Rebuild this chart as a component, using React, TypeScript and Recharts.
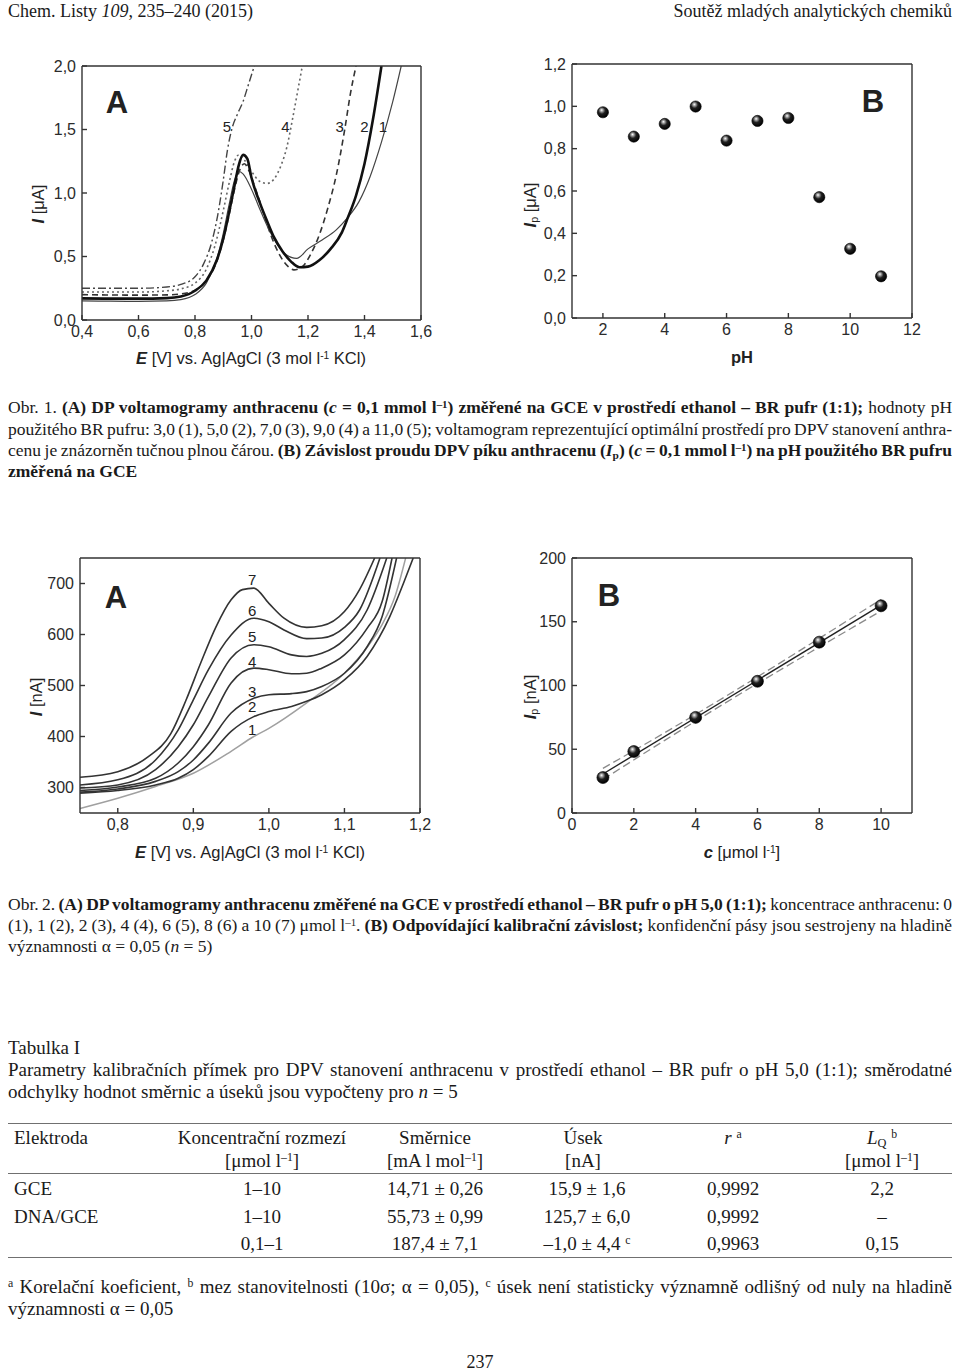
import React, { useLayoutEffect, useRef } from 'react';
import { ComposedChart, Line, Scatter, XAxis, YAxis, ReferenceDot } from 'recharts';

// ---------- DATA ----------
// Obr. 1A: DP voltammograms at various pH  [E (V), I (µA)]
const fig1A_pH3: [number, number][] = [[0.40,0.15],[0.50,0.148],[0.60,0.147],[0.70,0.15],[0.75,0.16],[0.80,0.20],[0.84,0.29],[0.877,0.48],[0.90,0.68],[0.92,0.90],[0.94,1.10],[0.955,1.17],[0.97,1.15],[1.00,1.03],[1.03,0.87],[1.06,0.72],[1.09,0.60],[1.12,0.52],[1.16,0.485],[1.20,0.56],[1.25,0.63],[1.30,0.71],[1.338,0.80],[1.38,0.93],[1.42,1.13],[1.46,1.40],[1.50,1.72],[1.53,2.0]];
const fig1A_pH5: [number, number][] = [[0.40,0.17],[0.50,0.168],[0.60,0.168],[0.70,0.172],[0.75,0.185],[0.80,0.23],[0.84,0.31],[0.877,0.47],[0.90,0.64],[0.92,0.84],[0.94,1.06],[0.955,1.22],[0.97,1.30],[0.985,1.27],[1.00,1.12],[1.03,0.92],[1.055,0.78],[1.08,0.65],[1.11,0.54],[1.14,0.46],[1.17,0.415],[1.20,0.42],[1.24,0.47],[1.28,0.56],[1.32,0.69],[1.34,0.80],[1.37,0.98],[1.40,1.23],[1.43,1.58],[1.46,2.0]];
const fig1A_pH7: [number, number][] = [[0.40,0.20],[0.50,0.197],[0.60,0.196],[0.70,0.198],[0.75,0.205],[0.80,0.235],[0.84,0.31],[0.877,0.46],[0.90,0.63],[0.92,0.82],[0.94,1.03],[0.96,1.19],[0.975,1.23],[0.99,1.18],[1.01,1.06],[1.04,0.86],[1.07,0.66],[1.10,0.51],[1.13,0.42],[1.15,0.395],[1.18,0.42],[1.21,0.52],[1.24,0.67],[1.27,0.88],[1.30,1.14],[1.33,1.50],[1.35,1.78],[1.37,2.0]];
const fig1A_pH9: [number, number][] = [[0.40,0.22],[0.50,0.22],[0.60,0.22],[0.70,0.23],[0.75,0.245],[0.80,0.29],[0.84,0.40],[0.87,0.58],[0.90,0.86],[0.92,1.07],[0.94,1.25],[0.955,1.30],[0.975,1.26],[1.00,1.17],[1.03,1.09],[1.055,1.075],[1.08,1.11],[1.105,1.22],[1.125,1.36],[1.145,1.58],[1.165,1.82],[1.18,2.0]];
const fig1A_pH11: [number, number][] = [[0.40,0.25],[0.50,0.25],[0.60,0.25],[0.70,0.26],[0.75,0.28],[0.80,0.34],[0.83,0.44],[0.86,0.62],[0.88,0.82],[0.90,1.10],[0.915,1.34],[0.93,1.50],[0.95,1.62],[0.97,1.72],[0.99,1.86],[1.01,2.0]];
const fig1A_labels: [number, number, string][] = [[0.913,1.52,'5'],[1.12,1.52,'4'],[1.312,1.52,'3'],[1.40,1.52,'2'],[1.465,1.52,'1']];
const fig1A_xTicks = [0.4, 0.6, 0.8, 1.0, 1.2, 1.4, 1.6];
const fig1A_yTicks = [0, 0.5, 1.0, 1.5, 2.0];

// Obr. 1B: peak current vs pH
const fig1B_pH = [2, 3, 4, 5, 6, 7, 8, 9, 10, 11];
const fig1B_Ip = [0.972, 0.857, 0.917, 0.999, 0.838, 0.931, 0.945, 0.571, 0.327, 0.197];
const fig1B_xTicks = [2, 4, 6, 8, 10, 12];
const fig1B_yTicks = [0, 0.2, 0.4, 0.6, 0.8, 1.0, 1.2];

// Obr. 2A: DP voltammograms at concentrations 0..10 µmol/l [E (V), I (nA)]
const fig2A_c0: [number, number][] = [[0.75,259],[0.80,279],[0.85,302],[0.90,328],[0.95,371],[0.98,400],[1.00,416],[1.05,466],[1.10,524],[1.13,575],[1.15,620],[1.167,675],[1.181,750]];
const fig2A_c1: [number, number][] = [[0.75,289],[0.80,294],[0.85,305],[0.88,318],[0.90,335],[0.92,361],[0.95,410],[0.98,439],[1.00,449],[1.03,459],[1.05,469],[1.07,482],[1.10,511],[1.13,557],[1.16,635],[1.178,700],[1.191,750]];
const fig2A_c2: [number, number][] = [[0.75,291],[0.80,297],[0.85,312],[0.88,331],[0.90,354],[0.92,387],[0.95,446],[0.98,475],[1.00,482],[1.03,484],[1.05,488],[1.07,498],[1.10,524],[1.13,576],[1.15,636],[1.169,750]];
const fig2A_c4: [number, number][] = [[0.75,294],[0.80,301],[0.85,318],[0.88,348],[0.90,380],[0.92,423],[0.95,505],[0.98,534],[1.00,531],[1.03,523],[1.05,524],[1.07,534],[1.10,560],[1.13,612],[1.15,665],[1.163,750]];
const fig2A_c6: [number, number][] = [[0.75,299],[0.80,305],[0.85,335],[0.88,380],[0.90,423],[0.92,478],[0.95,554],[0.98,580],[1.00,576],[1.03,560],[1.05,557],[1.07,563],[1.10,590],[1.13,648],[1.156,750]];
const fig2A_c8: [number, number][] = [[0.75,305],[0.80,315],[0.85,354],[0.88,413],[0.90,472],[0.92,531],[0.95,599],[0.98,632],[1.00,625],[1.02,609],[1.05,592],[1.07,593],[1.10,614],[1.12,648],[1.147,750]];
const fig2A_c10: [number, number][] = [[0.75,320],[0.80,331],[0.84,360],[0.87,405],[0.89,470],[0.91,545],[0.93,615],[0.95,668],[0.965,688],[0.98,691],[1.00,661],[1.02,632],[1.05,614],[1.07,617],[1.10,645],[1.12,688],[1.14,750]];
const fig2A_labels: [number, number, string][] = [[0.978,414,'1'],[0.978,459,'2'],[0.978,488,'3'],[0.978,546,'4'],[0.978,595,'5'],[0.978,646,'6'],[0.978,707,'7']];
const fig2A_xTicks = [0.8, 0.9, 1.0, 1.1, 1.2];
const fig2A_yTicks = [300, 400, 500, 600, 700];

// Obr. 2B: calibration
const fig2B_c = [1, 2, 4, 6, 8, 10];
const fig2B_Ip = [27.8, 48.2, 75.0, 103.3, 134.0, 162.5];
const fig2B_fit: [number, number][] = [[1, 30.6], [10, 163.0]];
const fig2B_upper: [number, number][] = [[1,35.0],[3,63.0],[5.5,99.3],[8,137.0],[10,167.5]];
const fig2B_lower: [number, number][] = [[1,26.2],[3,57.0],[5.5,94.3],[8,130.2],[10,158.5]];
const fig2B_xTicks = [0, 2, 4, 6, 8, 10];
const fig2B_yTicks = [0, 50, 100, 150, 200];

// Table I
const tableRows: string[][] = [
  ['GCE', '1–10', '14,71 ± 0,26', '15,9 ± 1,6', '0,9992', '2,2'],
  ['DNA/GCE', '1–10', '55,73 ± 0,99', '125,7 ± 6,0', '0,9992', '–'],
  ['', '0,1–1', '187,4 ± 7,1', '–1,0 ± 4,4', '0,9963', '0,15'],
];

// ---------- HELPERS ----------
const toPts = (a: [number, number][]) => a.map(([x, y]) => ({ x, y }));
const SANS = '"Liberation Sans", Arial, sans-serif';
const SERIF = '"Liberation Serif", "Times New Roman", serif';
const tickStyle = { fontSize: 16, fill: '#2b2b2b', fontFamily: SANS };
const comma = (d: number) => (v: number) => v.toFixed(d).replace('.', ',');
const AX = '#333';

function frame(xDomain: number[], xTicks: number[], xFmt: any, yDomain: number[], yTicks: number[], yFmt: any) {
  return [
    <XAxis key="xb" xAxisId={0} type="number" dataKey="x" domain={xDomain} ticks={xTicks} tickFormatter={xFmt}
      allowDataOverflow interval={0} height={30} tickSize={-5} tickMargin={11} stroke={AX} strokeWidth={1.4} tick={tickStyle} />,
    <XAxis key="xt" xAxisId="top" orientation="top" type="number" dataKey="x" domain={xDomain} ticks={xTicks}
      allowDataOverflow interval={0} height={1} tickSize={-5} tick={false} stroke={AX} strokeWidth={1.4} />,
    <YAxis key="yl" yAxisId={0} type="number" dataKey="y" domain={yDomain} ticks={yTicks} tickFormatter={yFmt}
      allowDataOverflow interval={0} width={60} tickSize={-5} tickMargin={11} stroke={AX} strokeWidth={1.4} tick={tickStyle} />,
    <YAxis key="yr" yAxisId="right" orientation="right" type="number" dataKey="y" domain={yDomain} ticks={yTicks}
      allowDataOverflow interval={0} width={1} tickSize={-5} tick={false} stroke={AX} strokeWidth={1.4} />,
    <Line key="anchor" xAxisId="top" yAxisId="right" data={[{ x: xDomain[0], y: yDomain[0] }, { x: xDomain[1], y: yDomain[1] }]}
      dataKey="y" stroke="none" dot={false} activeDot={false} isAnimationActive={false} legendType="none" />,
  ];
}

const Sphere = (r: number) => (p: any) => <circle cx={p.cx} cy={p.cy} r={r} fill="url(#sphereGrad)" stroke="#000" strokeWidth={0.6} />;

const Sup = ({ children }: any) => <sup style={{ fontSize: '0.62em', verticalAlign: '0.5em', lineHeight: 0 }}>{children}</sup>;
const Sub = ({ children }: any) => <sub style={{ fontSize: '0.65em', verticalAlign: '-0.25em', lineHeight: 0 }}>{children}</sub>;

function Abs({ cx, cy, rot, size = 16.5, bold, family = SANS, children }: any) {
  return (
    <div style={{ position: 'absolute', left: cx, top: cy, transform: `translate(-50%,-50%)${rot ? ' rotate(-90deg)' : ''}`,
      whiteSpace: 'nowrap', fontSize: size, fontWeight: bold ? 700 : 400, fontFamily: family, color: '#222', lineHeight: 1 }}>
      {children}
    </div>
  );
}

function TLine({ top, children, justify = false, left = 8, width = 944, align = 'left' as any, size = 17.5 }: any) {
  const ref = useRef<HTMLSpanElement>(null);
  useLayoutEffect(() => {
    const fit = () => {
      const el = ref.current;
      if (!el || !justify) return;
      el.style.wordSpacing = '0px';
      el.style.transform = 'none';
      const w = el.getBoundingClientRect().width;
      const spaces = (el.textContent || '').split(' ').length - 1;
      const extra = width - w;
      const per = spaces > 0 ? extra / spaces : 0;
      if (per >= -1.2) {
        el.style.wordSpacing = per + 'px';
      } else {
        el.style.transformOrigin = 'left center';
        el.style.transform = `scaleX(${width / w})`;
      }
    };
    fit();
    (document as any).fonts?.ready?.then(fit);
  }, []);
  return (
    <div style={{ position: 'absolute', left, top, width, whiteSpace: 'nowrap', fontSize: size, lineHeight: '22px',
      fontFamily: SERIF, color: '#1a1a1a', textAlign: align }}>
      <span ref={ref} style={{ display: 'inline-block' }}>{children}</span>
    </div>
  );
}

function Cell({ cx, top, children, left }: any) {
  return (
    <div style={{ position: 'absolute', left: left ?? cx, top, transform: left != null ? 'none' : 'translateX(-50%)',
      whiteSpace: 'nowrap', fontSize: 19, lineHeight: '22px', fontFamily: SERIF, color: '#1a1a1a' }}>{children}</div>
  );
}

const colX = [262, 435, 587, 733, 882];
const Rule = ({ top }: any) => <div style={{ position: 'absolute', left: 8, top, width: 944, height: 0, borderTop: '1.6px solid #707070' }} />;

// ---------- APP ----------
export default function App() {
  const f1b = fig1B_pH.map((x, i) => ({ x, y: fig1B_Ip[i] }));
  const f2b = fig2B_c.map((x, i) => ({ x, y: fig2B_Ip[i] }));
  const lbl = (fs: number) => ({ fontSize: fs, fill: '#222', fontFamily: SANS });
  return (
    <div style={{ position: 'absolute', left: 0, top: 0, width: 960, height: 1371, background: '#fff', overflow: 'hidden' }}>
      <svg width="0" height="0" style={{ position: 'absolute' }}>
        <defs>
          <radialGradient id="sphereGrad" cx="0.42" cy="0.38" r="0.62" fx="0.38" fy="0.3">
            <stop offset="0" stopColor="#ffffff" />
            <stop offset="0.22" stopColor="#9a9a9a" />
            <stop offset="0.5" stopColor="#202020" />
            <stop offset="1" stopColor="#000000" />
          </radialGradient>
        </defs>
      </svg>

      {/* header */}
      <TLine top={0} size={18}>Chem. Listy <i>109</i>, 235–240 (2015)</TLine>
      <TLine top={0} size={18} align="right">Soutěž mladých analytických chemiků</TLine>

      {/* Obr. 1A */}
      <div style={{ position: 'absolute', left: 0, top: 40 }}>
        <ComposedChart width={480} height={345} margin={{ top: 25, right: 58, bottom: 35, left: 22 }}>
          {frame([0.4, 1.6], fig1A_xTicks, comma(1), [0, 2], fig1A_yTicks, comma(1))}
          <Line data={toPts(fig1A_pH11)} dataKey="y" type="monotone" dot={false} isAnimationActive={false} stroke="#444" strokeWidth={1.4} strokeDasharray="8 3 2 3" />
          <Line data={toPts(fig1A_pH9)} dataKey="y" type="monotone" dot={false} isAnimationActive={false} stroke="#666" strokeWidth={1.6} strokeDasharray="2 3" />
          <Line data={toPts(fig1A_pH7)} dataKey="y" type="monotone" dot={false} isAnimationActive={false} stroke="#333" strokeWidth={1.6} strokeDasharray="6 4" />
          <Line data={toPts(fig1A_pH3)} dataKey="y" type="monotone" dot={false} isAnimationActive={false} stroke="#444" strokeWidth={1.2} />
          <Line data={toPts(fig1A_pH5)} dataKey="y" type="monotone" dot={false} isAnimationActive={false} stroke="#111" strokeWidth={2.6} />
          {fig1A_labels.map(([x, y, t]) => (
            <ReferenceDot key={t} x={x} y={y} r={1} fill="none" stroke="none" label={{ value: t, position: 'center', ...lbl(15) }} />
          ))}
        </ComposedChart>
      </div>
      <Abs cx={117} cy={102} size={31} bold>A</Abs>
      <Abs cx={251} cy={358}><b><i>E</i></b> [V] vs. Ag|AgCl (3 mol l<Sup>-1</Sup> KCl)</Abs>
      <Abs cx={38} cy={204} rot><b><i>I</i></b> [μA]</Abs>

      {/* Obr. 1B */}
      <div style={{ position: 'absolute', left: 480, top: 40 }}>
        <ComposedChart width={480} height={345} margin={{ top: 23, right: 47, bottom: 37, left: 32 }}>
          {frame([1, 12], fig1B_xTicks, (v: number) => String(v), [0, 1.2], fig1B_yTicks, comma(1))}
          <Scatter data={f1b} dataKey="y" isAnimationActive={false} shape={Sphere(5.6)} />
        </ComposedChart>
      </div>
      <Abs cx={873} cy={101} size={31} bold>B</Abs>
      <Abs cx={742} cy={357} bold>pH</Abs>
      <Abs cx={530} cy={205} rot><b><i>I</i></b><Sub>p</Sub> [μA]</Abs>

      {/* Caption 1 */}
      <TLine top={396} justify>Obr. 1. <b>(A) DP voltamogramy anthracenu (<i>c</i> = 0,1 mmol l<Sup>–1</Sup>) změřené na GCE v prostředí ethanol – BR pufr (1:1);</b> hodnoty pH</TLine>
      <TLine top={418} justify>použitého BR pufru: 3,0 (1), 5,0 (2), 7,0 (3), 9,0 (4) a 11,0 (5); voltamogram reprezentující optimální prostředí pro DPV stanovení anthra-</TLine>
      <TLine top={439} justify>cenu je znázorněn tučnou plnou čárou. <b>(B) Závislost proudu DPV píku anthracenu (<i>I</i><Sub>p</Sub>) (<i>c</i> = 0,1 mmol l<Sup>–1</Sup>) na pH použitého BR pufru</b></TLine>
      <TLine top={460}><b>změřená na GCE</b></TLine>

      {/* Obr. 2A */}
      <div style={{ position: 'absolute', left: 0, top: 530 }}>
        <ComposedChart width={480} height={345} margin={{ top: 27, right: 59, bottom: 32, left: 20 }}>
          {frame([0.75, 1.2], fig2A_xTicks, comma(1), [250, 750], fig2A_yTicks, (v: number) => String(v))}
          <Line data={toPts(fig2A_c0)} dataKey="y" type="monotone" dot={false} isAnimationActive={false} stroke="#a0a0a0" strokeWidth={1.5} />
          {[fig2A_c1, fig2A_c2, fig2A_c4, fig2A_c6, fig2A_c8, fig2A_c10].map((d, i) => (
            <Line key={i} data={toPts(d)} dataKey="y" type="monotone" dot={false} isAnimationActive={false} stroke="#333" strokeWidth={1.6} />
          ))}
          {fig2A_labels.map(([x, y, t]) => (
            <ReferenceDot key={t} x={x} y={y} r={1} fill="none" stroke="none" label={{ value: t, position: 'center', ...lbl(15) }} />
          ))}
        </ComposedChart>
      </div>
      <Abs cx={116} cy={597} size={31} bold>A</Abs>
      <Abs cx={250} cy={852}><b><i>E</i></b> [V] vs. Ag|AgCl (3 mol l<Sup>-1</Sup> KCl)</Abs>
      <Abs cx={36} cy={697} rot><b><i>I</i></b> [nA]</Abs>

      {/* Obr. 2B */}
      <div style={{ position: 'absolute', left: 480, top: 530 }}>
        <ComposedChart width={480} height={345} margin={{ top: 27, right: 47, bottom: 32, left: 32 }}>
          {frame([0, 11], fig2B_xTicks, (v: number) => String(v), [0, 200], fig2B_yTicks, (v: number) => String(v))}
          <Line data={toPts(fig2B_upper)} dataKey="y" type="monotone" dot={false} isAnimationActive={false} stroke="#8a8a8a" strokeWidth={1.3} strokeDasharray="8 4" />
          <Line data={toPts(fig2B_lower)} dataKey="y" type="monotone" dot={false} isAnimationActive={false} stroke="#8a8a8a" strokeWidth={1.3} strokeDasharray="8 4" />
          <Line data={toPts(fig2B_fit)} dataKey="y" type="linear" dot={false} isAnimationActive={false} stroke="#222" strokeWidth={1.4} />
          <Scatter data={f2b} dataKey="y" isAnimationActive={false} shape={Sphere(6)} />
        </ComposedChart>
      </div>
      <Abs cx={609} cy={595} size={31} bold>B</Abs>
      <Abs cx={742} cy={852}><b><i>c</i></b> [μmol l<Sup>-1</Sup>]</Abs>
      <Abs cx={530} cy={697} rot><b><i>I</i></b><Sub>p</Sub> [nA]</Abs>

      {/* Caption 2 */}
      <TLine top={893} justify>Obr. 2. <b>(A) DP voltamogramy anthracenu změřené na GCE v prostředí ethanol – BR pufr o pH 5,0 (1:1);</b> koncentrace anthracenu: 0</TLine>
      <TLine top={914} justify>(1), 1 (2), 2 (3), 4 (4), 6 (5), 8 (6) a 10 (7) μmol l<Sup>–1</Sup>. <b>(B) Odpovídající kalibrační závislost;</b> konfidenční pásy jsou sestrojeny na hladině</TLine>
      <TLine top={935}>významnosti α = 0,05 (<i>n</i> = 5)</TLine>

      {/* Table */}
      <TLine top={1037} size={19}>Tabulka I</TLine>
      <TLine top={1059} size={19} justify>Parametry kalibračních přímek pro DPV stanovení anthracenu v prostředí ethanol – BR pufr o pH 5,0 (1:1); směrodatné</TLine>
      <TLine top={1081} size={19}>odchylky hodnot směrnic a úseků jsou vypočteny pro <i>n</i> = 5</TLine>

      <Rule top={1123} />
      <Cell left={14} top={1127}>Elektroda</Cell>
      <Cell cx={colX[0]} top={1127}>Koncentrační rozmezí</Cell>
      <Cell cx={colX[0]} top={1150}>[μmol l<Sup>–1</Sup>]</Cell>
      <Cell cx={colX[1]} top={1127}>Směrnice</Cell>
      <Cell cx={colX[1]} top={1150}>[mA l mol<Sup>–1</Sup>]</Cell>
      <Cell cx={583} top={1127}>Úsek</Cell>
      <Cell cx={583} top={1150}>[nA]</Cell>
      <Cell cx={colX[3]} top={1127}><i>r</i> <Sup>a</Sup></Cell>
      <Cell cx={colX[4]} top={1127}><i>L</i><Sub>Q</Sub> <Sup>b</Sup></Cell>
      <Cell cx={colX[4]} top={1150}>[μmol l<Sup>–1</Sup>]</Cell>
      <Rule top={1173} />
      {tableRows.map((row, ri) => (
        <React.Fragment key={ri}>
          <Cell left={14} top={1178 + ri * 27.5}>{row[0]}</Cell>
          {row.slice(1).map((v, ci) => (
            <Cell key={ci} cx={colX[ci]} top={1178 + ri * 27.5}>{v}{ri === 2 && ci === 2 ? <> <Sup>c</Sup></> : null}</Cell>
          ))}
        </React.Fragment>
      ))}
      <Rule top={1257} />

      {/* footnote */}
      <TLine top={1276} size={19} justify><Sup>a</Sup> Korelační koeficient, <Sup>b</Sup> mez stanovitelnosti (10σ; α = 0,05), <Sup>c</Sup> úsek není statisticky významně odlišný od nuly na hladině</TLine>
      <TLine top={1298} size={19}>významnosti α = 0,05</TLine>

      <TLine top={1351} size={18} align="center">237</TLine>
    </div>
  );
}
